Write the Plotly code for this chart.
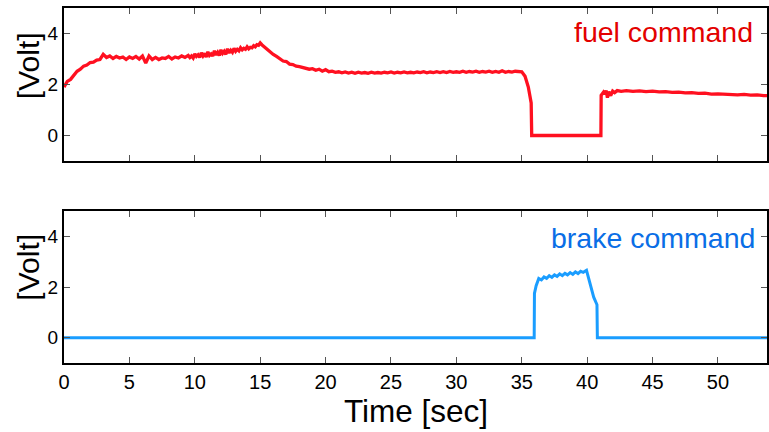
import plotly.graph_objects as go
from plotly.subplots import make_subplots

# ---- data ----
fuel_samples = [
    (0.00, 1.90), (0.25, 2.12), (0.50, 2.20), (0.75, 2.38), (1.00, 2.52), (1.25, 2.60),
    (1.50, 2.72), (1.75, 2.76), (2.00, 2.86), (2.25, 2.88), (2.50, 2.96), (2.75, 2.98),
    (3.00, 3.18), (3.25, 3.06), (3.50, 3.12), (3.75, 3.02), (4.00, 3.10), (4.25, 3.04),
    (4.50, 3.08), (4.75, 2.98), (5.00, 3.08), (5.25, 3.02), (5.50, 3.10), (5.75, 3.00),
    (6.00, 3.12), (6.25, 2.84), (6.50, 3.12), (6.75, 2.98), (7.00, 3.06), (7.25, 2.98),
    (7.50, 3.04), (7.75, 3.02), (8.00, 3.10), (8.25, 3.00), (8.50, 3.08), (8.75, 3.04),
    (9.00, 3.12), (9.25, 3.06),
    (9.500, 3.14), (9.625, 3.06), (9.750, 3.12), (9.875, 3.04), (10.000, 3.20), (10.125, 3.10),
    (10.250, 3.16), (10.375, 3.06), (10.500, 3.24), (10.625, 3.12), (10.750, 3.22), (10.875, 3.08),
    (11.000, 3.28), (11.125, 3.14), (11.250, 3.20), (11.375, 3.12), (11.500, 3.32), (11.625, 3.16),
    (11.750, 3.26), (11.875, 3.14), (12.000, 3.36), (12.125, 3.22), (12.250, 3.30), (12.375, 3.18),
    (12.500, 3.40), (12.625, 3.24), (12.750, 3.34), (12.875, 3.26), (13.000, 3.42), (13.125, 3.30),
    (13.250, 3.38), (13.375, 3.32), (13.500, 3.44), (13.625, 3.36), (13.750, 3.42), (13.875, 3.38),
    (14.000, 3.48), (14.125, 3.40), (14.250, 3.46), (14.375, 3.44), (14.500, 3.52), (14.625, 3.48),
    (14.750, 3.56), (14.875, 3.54), (15.000, 3.63), (15.125, 3.56),
    (15.25, 3.50), (15.50, 3.40), (15.75, 3.28), (16.00, 3.18), (16.25, 3.10),
    (16.50, 3.02), (16.75, 2.92), (17.00, 2.90), (17.25, 2.80), (17.50, 2.78), (17.75, 2.72),
    (18.00, 2.70), (18.25, 2.66), (18.50, 2.64), (18.75, 2.60), (19.00, 2.62), (19.25, 2.56),
    (19.50, 2.60), (19.75, 2.52), (20.00, 2.58), (20.25, 2.50), (20.50, 2.52), (20.75, 2.48),
    (21.00, 2.50), (21.25, 2.46), (21.50, 2.49), (21.75, 2.45), (22.00, 2.48), (22.25, 2.44),
    (22.50, 2.48), (22.75, 2.45), (23.00, 2.47), (23.25, 2.44), (23.50, 2.48), (23.75, 2.45),
    (24.00, 2.47), (24.25, 2.45), (24.50, 2.48), (24.75, 2.46), (25.00, 2.49), (25.25, 2.45),
    (25.50, 2.48), (25.75, 2.46), (26.00, 2.49), (26.25, 2.46), (26.50, 2.48), (26.75, 2.46),
    (27.00, 2.49), (27.25, 2.47), (27.50, 2.50), (27.75, 2.46), (28.00, 2.49), (28.25, 2.47),
    (28.50, 2.50), (28.75, 2.47), (29.00, 2.50), (29.25, 2.47), (29.50, 2.51), (29.75, 2.48),
    (30.00, 2.50), (30.25, 2.48), (30.50, 2.52), (30.75, 2.48), (31.00, 2.51), (31.25, 2.49),
    (31.50, 2.52), (31.75, 2.48), (32.00, 2.51), (32.25, 2.49), (32.50, 2.52), (32.75, 2.48),
    (33.00, 2.51), (33.25, 2.48), (33.50, 2.54), (33.75, 2.48), (34.00, 2.51), (34.25, 2.49),
    (34.50, 2.52), (34.75, 2.50), (35.00, 2.50), (35.25, 2.32), (35.50, 1.90), (35.72, 1.28),
    (35.76, 0.00), (41.05, 0.00), (41.07, 1.58), (41.25, 1.70), (41.35, 1.62), (41.45, 1.76),
    (41.55, 1.48), (41.65, 1.72), (41.80, 1.56), (41.95, 1.74), (42.10, 1.68), (42.30, 1.76),
    (42.60, 1.73), (43.00, 1.76), (43.50, 1.73), (44.00, 1.75), (44.50, 1.72), (45.00, 1.74),
    (45.50, 1.71), (46.00, 1.72), (46.50, 1.69), (47.00, 1.70), (47.50, 1.67), (48.00, 1.68),
    (48.50, 1.65), (49.00, 1.66), (49.50, 1.62), (50.00, 1.63), (50.50, 1.61), (51.00, 1.62),
    (51.50, 1.59), (52.00, 1.61), (52.50, 1.58), (53.00, 1.59), (53.50, 1.56), (54.00, 1.57),
]
fuel_time = [t for t, _ in fuel_samples]
fuel_volt = [v for _, v in fuel_samples]

brake_time = [0.0, 35.95, 35.97, 36.10, 36.30, 36.50, 36.70, 36.90, 37.10, 37.30, 37.50,
              37.70, 37.90, 38.10, 38.30, 38.50, 38.70, 38.90, 39.10, 39.30, 39.50, 39.70,
              39.95, 40.20, 40.50, 40.75, 40.78, 54.0]
brake_volt = [0.0, 0.0, 1.75, 2.05, 2.34, 2.28, 2.40, 2.34, 2.45, 2.38, 2.48,
              2.42, 2.52, 2.45, 2.54, 2.48, 2.57, 2.50, 2.60, 2.53, 2.62, 2.58,
              2.66, 2.15, 1.60, 1.30, 0.0, 0.0]

x_ticks = [0, 5, 10, 15, 20, 25, 30, 35, 40, 45, 50]
y_ticks = [0, 2, 4]
series_labels = ["fuel command", "brake command"]

# ---- figure ----
FONT = "Liberation Sans, Arial, sans-serif"
fig = make_subplots(rows=2, cols=1, shared_xaxes=False, vertical_spacing=0.0)

fig.add_trace(go.Scatter(x=fuel_time, y=fuel_volt, mode="lines",
                         line=dict(color="#ff1020", width=3.3), showlegend=False), row=1, col=1)
fig.add_trace(go.Scatter(x=brake_time, y=brake_volt, mode="lines",
                         line=dict(color="#1a9dff", width=3), showlegend=False), row=2, col=1)

axis_common = dict(showline=True, linecolor="black", linewidth=2, mirror="ticks",
                   ticks="inside", ticklen=6, tickwidth=1, tickcolor="#555",
                   showgrid=False, zeroline=False)

fig.update_xaxes(range=[0, 53.75], tickvals=x_ticks, **axis_common)
fig.update_yaxes(range=[-1, 5], tickvals=y_ticks, **axis_common,
                 tickfont=dict(family=FONT, size=19, color="black"))
fig.update_xaxes(showticklabels=False, row=1, col=1)
fig.update_xaxes(tickfont=dict(family=FONT, size=20, color="black"), row=2, col=1)

fig.update_layout(
    width=769, height=432,
    margin=dict(l=64, r=0, t=8, b=69),
    paper_bgcolor="white", plot_bgcolor="white",
    yaxis=dict(domain=[0.569, 1.0]),
    yaxis2=dict(domain=[0.0, 0.428]),
    font=dict(family=FONT, color="black"),
)

annotations = [
    dict(text=series_labels[0], x=52.85, y=4.05, xref="x", yref="y", xanchor="right",
         yanchor="middle", showarrow=False, font=dict(family=FONT, size=28.5, color="#e30000")),
    dict(text=series_labels[1], x=52.98, y=3.95, xref="x2", yref="y2", xanchor="right",
         yanchor="middle", showarrow=False, font=dict(family=FONT, size=28.5, color="#0a6ee6")),
    dict(text="[Volt]", x=-0.051, y=0.8366, xref="paper", yref="paper", textangle=-90,
         xanchor="center", yanchor="middle", showarrow=False, font=dict(family=FONT, size=30)),
    dict(text="[Volt]", x=-0.051, y=0.269, xref="paper", yref="paper", textangle=-90,
         xanchor="center", yanchor="middle", showarrow=False, font=dict(family=FONT, size=30)),
    dict(text="Time [sec]", x=0.5014, y=-0.135, xref="paper", yref="paper",
         xanchor="center", yanchor="middle", showarrow=False, font=dict(family=FONT, size=31.5)),
]
fig.update_layout(annotations=annotations)

fig.write_html("out.html", config={"displayModeBar": False},
               post_script="document.body.style.margin='0px';document.body.style.overflow='hidden';")
